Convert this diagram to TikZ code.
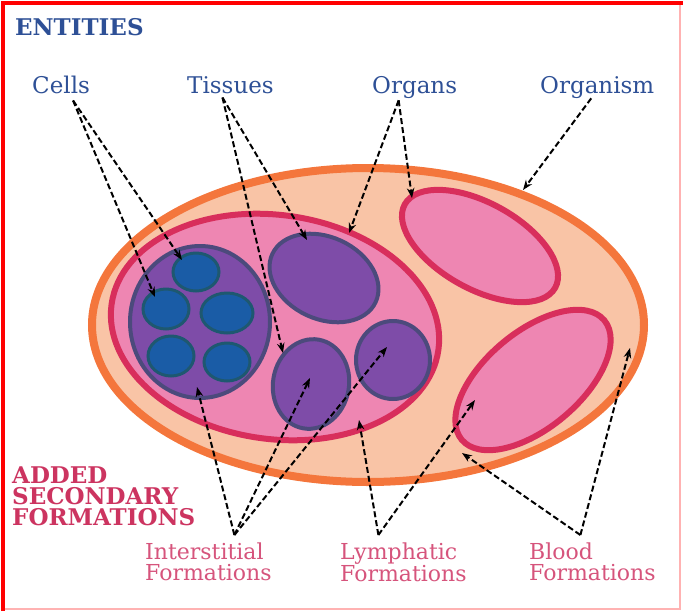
\documentclass[tikz,border=0pt]{standalone}
\usepackage{fontspec}
\setmainfont{DejaVu Serif}
\usetikzlibrary{arrows.meta}

\definecolor{entityblue}{RGB}{46,80,150}
\definecolor{formpink}{RGB}{214,84,124}
\definecolor{addedpink}{RGB}{204,52,96}
\definecolor{bodyfill}{RGB}{249,196,166}
\definecolor{bodyline}{RGB}{244,118,60}
\definecolor{organfill}{RGB}{238,134,178}
\definecolor{organline}{RGB}{216,46,92}
\definecolor{tissuefill}{RGB}{126,76,168}
\definecolor{tissueline}{RGB}{76,74,124}
\definecolor{cellfill}{RGB}{26,92,166}
\definecolor{cellline}{RGB}{30,88,112}

\begin{document}
\begin{tikzpicture}[x=1pt, y=-1pt,
	entity/.style={text=entityblue, font=\fontsize{23}{23}\selectfont, inner sep=0pt, anchor=base west},
	formation/.style={text=formpink, font=\fontsize{22}{21}\selectfont, inner sep=0pt, anchor=north west, align=left},
	heading/.style={font=\bfseries\fontsize{23}{21}\selectfont, inner sep=0pt, anchor=north west, align=left},
	pointer/.style={line width=2pt, dash pattern=on 6pt off 3pt, -{Stealth[length=10pt, width=7.5pt]}},
	body/.style={fill=bodyfill, draw=bodyline, line width=8pt},
	organ/.style={fill=organfill, draw=organline, line width=6pt},
	tissue/.style={fill=tissuefill, draw=tissueline, line width=4pt},
	cell/.style={fill=cellfill, draw=cellline, line width=3pt}]

	% --- Frame ---
	\useasboundingbox (0,0) rectangle (683,611);
	\draw[red!30, line width=1.2pt] (4,609) -- (680,609) -- (680,4);
	\draw[red, line width=4.5pt] (3,611) -- (3,3) -- (683,3);

	% --- Organism ---
	\draw[body] (368,325) ellipse [x radius=276pt, y radius=157pt];

	% --- Organs ---
	\draw[organ, rotate around={-8:(275,327)}] (275,327) ellipse [x radius=165pt, y radius=112pt];
	\draw[organ, rotate around={-29:(480,246)}] (480,246) ellipse [x radius=86pt, y radius=43pt];
	\draw[organ, rotate around={40:(533,380)}] (533,380) ellipse [x radius=93pt, y radius=48pt];

	% --- Tissues ---
	\draw[tissue] (200,322) ellipse [x radius=70pt, y radius=76pt];
	\draw[tissue, rotate around={-25:(324,278)}] (324,278) ellipse [x radius=57pt, y radius=41pt];
	\draw[tissue, rotate around={-10:(311,384)}] (311,384) ellipse [x radius=38pt, y radius=45pt];
	\draw[tissue] (393,360) ellipse [x radius=37pt, y radius=39pt];

	% --- Cells ---
	\foreach \cx/\cy/\rx/\ry in {196/272/23/19, 166/309/23/20, 227/313/26/20, 171/356/23/20, 227/362/23/19} {
		\draw[cell] (\cx,\cy) ellipse [x radius=\rx pt, y radius=\ry pt];
	}

	% --- Labels ---
	\node[heading, text=entityblue] (entities) at (15,18) {ENTITIES};
	\node[entity] (cells) at (32,93) {Cells};
	\node[entity] (tissues) at (187,93) {Tissues};
	\node[entity] (organs) at (372,93) {Organs};
	\node[entity] (organism) at (540,93) {Organism};

	\node[heading, text=addedpink] (added) at (12,467) {ADDED\\SECONDARY\\FORMATIONS};
	\node[formation] (interstitial) at (145,543) {Interstitial\\Formations};
	\node[formation] (lymphatic) at (340,543) {Lymphatic\\Formations};
	\node[formation] (blood) at (529,543) {Blood\\Formations};

	% --- Pointer tips ---
	\coordinate (cellA) at (182,260);
	\coordinate (cellB) at (155,297);
	\coordinate (tissueA) at (307,240);
	\coordinate (tissueB) at (283,353);
	\coordinate (organA) at (349,233);
	\coordinate (organB) at (412,198);
	\coordinate (bodyTop) at (523,190);
	\coordinate (interA) at (197,387);
	\coordinate (interB) at (310,378);
	\coordinate (interC) at (387,347);
	\coordinate (lymphA) at (359,420);
	\coordinate (lymphB) at (475,400);
	\coordinate (bloodA) at (462,453);
	\coordinate (bloodB) at (630,348);

	% --- Pointers from entities ---
	\draw[pointer] ([shift={(12,7)}]cells.south) -- (cellA);
	\draw[pointer] ([shift={(12,7)}]cells.south) -- (cellB);
	\draw[pointer] ([shift={(-8,4)}]tissues.south) -- (tissueA);
	\draw[pointer] ([shift={(-8,4)}]tissues.south) -- (tissueB);
	\draw[pointer] ([shift={(-16,2)}]organs.south) -- (organA);
	\draw[pointer] ([shift={(-16,2)}]organs.south) -- (organB);
	\draw[pointer] ([shift={(-6,0)}]organism.south) -- (bodyTop);

	% --- Pointers from formations ---
	\draw[pointer] ([shift={(26,-8)}]interstitial.north) -- (interA);
	\draw[pointer] ([shift={(26,-8)}]interstitial.north) -- (interB);
	\draw[pointer] ([shift={(26,-8)}]interstitial.north) -- (interC);
	\draw[pointer] ([shift={(-25,-8)}]lymphatic.north) -- (lymphA);
	\draw[pointer] ([shift={(-25,-8)}]lymphatic.north) -- (lymphB);
	\draw[pointer] ([shift={(-12,-8)}]blood.north) -- (bloodA);
	\draw[pointer] ([shift={(-12,-8)}]blood.north) -- (bloodB);

\end{tikzpicture}
\end{document}
